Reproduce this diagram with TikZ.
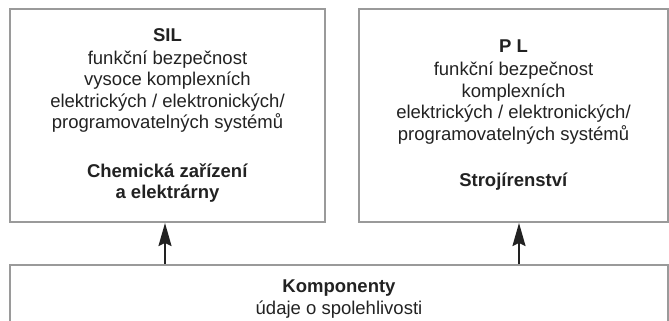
\documentclass[tikz,border=0pt]{standalone}
\usepackage{fontspec}
\setmainfont{Liberation Sans}
\usetikzlibrary{arrows.meta}
\definecolor{boxgray}{HTML}{9A9A9A}
\definecolor{ink}{HTML}{222222}
\tikzset{
  box/.style={draw=boxgray, line width=2pt, rectangle, align=center, text=ink,
    inner sep=0pt, font=\fontsize{18.5}{21.5}\selectfont},
  arr/.style={draw=ink, line width=2pt, -{Stealth[length=23pt,width=13pt,inset=3pt]}}
}
\begin{document}
\begin{tikzpicture}[x=1pt,y=-1pt]
\useasboundingbox (0,0) rectangle (669,321);
\clip (0,0) rectangle (669,321);
\node[box, minimum width=315pt, minimum height=213pt] (sil) at (167.5,115.5)
  {\textbf{SIL}\\[1.5pt]funkční bezpečnost\\vysoce komplexních\\elektrických / elektronických/\\programovatelných systémů\\[27pt]\textbf{Chemická zařízení}\\\textbf{a elektrárny}};
\node[box, minimum width=309pt, minimum height=213pt] (pl) at (513.5,115.5)
  {\textbf{P L}\\[1.5pt]funkční bezpečnost\\komplexních\\elektrických / elektronických/\\programovatelných systémů\\[25pt]\textbf{Strojírenství}};
\node[box, minimum width=658pt, minimum height=68pt] (comp) at (339,299)
  {\textbf{Komponenty}\\údaje o spolehlivosti};
\draw[arr] ([xshift=-2.5pt]sil.south |- comp.north) -- ([xshift=-2.5pt]sil.south);
\draw[arr] ([xshift=5.5pt]pl.south |- comp.north) -- ([xshift=5.5pt]pl.south);
\end{tikzpicture}
\end{document}
